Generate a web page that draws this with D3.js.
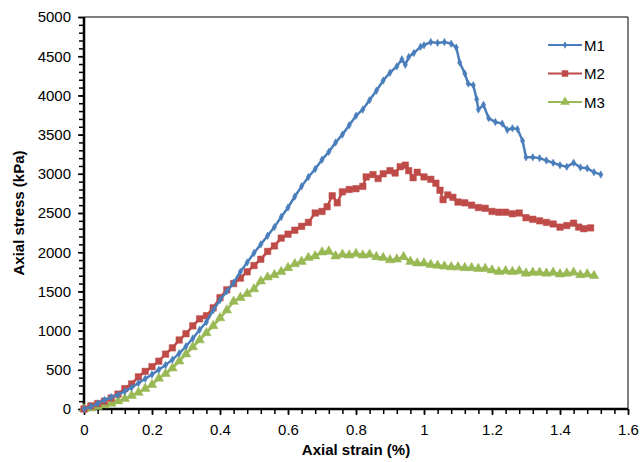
<!DOCTYPE html>
<html>
<head>
<meta charset="utf-8">
<script src="https://cdn.jsdelivr.net/npm/d3@7"></script>
<style>
  body { margin: 0; background: #fff; }
  svg { font-family: "Liberation Sans", Arial, sans-serif; }
</style>
</head>
<body>
<svg width="644" height="462"></svg>
<script>
const seriesNames = ["M1", "M2", "M3"];
const seriesColors = ["#4a7ebb", "#be4b48", "#98b954"];

// [axial strain %, axial stress kPa]
const m1 = [
  [0, 0], [0.02, 30], [0.04, 70], [0.06, 115], [0.08, 150], [0.10, 180], [0.12, 225],
  [0.14, 275], [0.16, 330], [0.18, 385], [0.20, 440], [0.22, 500], [0.24, 560],
  [0.26, 630], [0.28, 710], [0.30, 800], [0.32, 900], [0.34, 1010], [0.36, 1110],
  [0.38, 1260], [0.40, 1390], [0.42, 1500], [0.44, 1610], [0.46, 1750], [0.48, 1870],
  [0.50, 1990], [0.52, 2100], [0.54, 2210], [0.56, 2320], [0.58, 2450], [0.60, 2570],
  [0.62, 2710], [0.64, 2840], [0.66, 2960], [0.68, 3060], [0.70, 3180], [0.72, 3280],
  [0.74, 3400], [0.76, 3500], [0.78, 3620], [0.80, 3740], [0.82, 3820], [0.84, 3940],
  [0.86, 4060], [0.88, 4190], [0.90, 4290], [0.92, 4370], [0.935, 4460], [0.945, 4390],
  [0.955, 4490], [0.97, 4540], [0.99, 4620], [1.00, 4640], [1.02, 4680], [1.04, 4670],
  [1.06, 4680], [1.08, 4660], [1.095, 4610], [1.105, 4420], [1.12, 4280], [1.13, 4150],
  [1.145, 4130], [1.155, 3950], [1.16, 3820], [1.175, 3880], [1.19, 3710], [1.21, 3660],
  [1.23, 3640], [1.245, 3560], [1.26, 3580], [1.275, 3570], [1.29, 3420], [1.30, 3210],
  [1.32, 3210], [1.34, 3200], [1.36, 3170], [1.38, 3140], [1.40, 3110], [1.42, 3090],
  [1.44, 3140], [1.46, 3080], [1.48, 3070], [1.50, 3020], [1.52, 2990]
];
const m2 = [
  [0, 0], [0.02, 40], [0.04, 70], [0.06, 100], [0.08, 140], [0.10, 190], [0.12, 260],
  [0.14, 320], [0.16, 410], [0.18, 480], [0.20, 540], [0.22, 610], [0.24, 700],
  [0.26, 780], [0.28, 880], [0.30, 960], [0.32, 1060], [0.34, 1150], [0.36, 1190],
  [0.38, 1290], [0.40, 1420], [0.42, 1520], [0.44, 1600], [0.46, 1670], [0.48, 1750],
  [0.50, 1830], [0.52, 1910], [0.54, 2010], [0.56, 2080], [0.58, 2180], [0.60, 2230],
  [0.62, 2280], [0.64, 2330], [0.66, 2380], [0.68, 2500], [0.70, 2520], [0.715, 2580],
  [0.73, 2720], [0.745, 2630], [0.76, 2770], [0.78, 2800], [0.80, 2810], [0.82, 2840],
  [0.83, 2960], [0.85, 2990], [0.865, 2940], [0.88, 3000], [0.90, 3040], [0.915, 3010],
  [0.93, 3090], [0.945, 3110], [0.955, 3040], [0.968, 2950], [0.98, 3020], [1.00, 2960],
  [1.02, 2930], [1.035, 2880], [1.047, 2790], [1.056, 2670], [1.07, 2730], [1.085, 2700],
  [1.10, 2640], [1.12, 2630], [1.14, 2600], [1.16, 2570], [1.18, 2560], [1.20, 2520],
  [1.22, 2510], [1.24, 2510], [1.26, 2490], [1.28, 2500], [1.30, 2440], [1.32, 2420],
  [1.34, 2400], [1.36, 2380], [1.38, 2360], [1.40, 2320], [1.42, 2340], [1.44, 2370],
  [1.455, 2320], [1.47, 2300], [1.49, 2310]
];
const m3 = [
  [0, 0], [0.02, 10], [0.04, 30], [0.06, 50], [0.08, 70], [0.10, 100], [0.12, 130],
  [0.14, 170], [0.16, 210], [0.18, 260], [0.20, 310], [0.22, 390], [0.24, 450],
  [0.26, 520], [0.28, 610], [0.30, 700], [0.32, 790], [0.34, 880], [0.36, 970],
  [0.38, 1060], [0.40, 1160], [0.42, 1260], [0.44, 1370], [0.46, 1420], [0.48, 1470],
  [0.50, 1530], [0.52, 1630], [0.54, 1680], [0.56, 1710], [0.58, 1750], [0.60, 1800],
  [0.62, 1850], [0.64, 1880], [0.66, 1930], [0.68, 1950], [0.70, 2000], [0.72, 2010],
  [0.74, 1950], [0.76, 1970], [0.78, 1960], [0.80, 1980], [0.82, 1960], [0.84, 1970],
  [0.86, 1940], [0.88, 1930], [0.90, 1900], [0.92, 1910], [0.94, 1940], [0.96, 1880],
  [0.98, 1860], [1.00, 1860], [1.02, 1840], [1.04, 1830], [1.06, 1820], [1.08, 1810],
  [1.10, 1810], [1.12, 1800], [1.14, 1800], [1.16, 1790], [1.18, 1790], [1.20, 1770],
  [1.22, 1750], [1.24, 1760], [1.26, 1750], [1.28, 1760], [1.30, 1730], [1.32, 1740],
  [1.34, 1740], [1.36, 1730], [1.38, 1740], [1.40, 1720], [1.42, 1730], [1.44, 1740],
  [1.46, 1710], [1.48, 1720], [1.50, 1700]
];
const xTicks = [0, 0.2, 0.4, 0.6, 0.8, 1, 1.2, 1.4, 1.6];
const yTicks = [0, 500, 1000, 1500, 2000, 2500, 3000, 3500, 4000, 4500, 5000];

const svg = d3.select("svg");
const padL = 84, padR = 628, padT = 17, padB = 409;

const x = d3.scaleLinear().domain([0, 1.6]).range([padL, padR]);
const y = d3.scaleLinear().domain([0, 5000]).range([padB, padT]);

// frame (thin top / right)
svg.append("path")
  .attr("d", `M${padL},${padT}H${padR}V${padB}`)
  .attr("fill", "none").attr("stroke", "#000").attr("stroke-width", 1);

// minor ticks
svg.append("g")
  .attr("transform", `translate(0,${padB})`)
  .call(d3.axisBottom(x).tickValues(d3.range(0, 41).map(i => i * 0.04)).tickSize(5).tickFormat(""))
  .call(g => g.select(".domain").remove())
  .selectAll("line").attr("stroke-width", 1.5);
svg.append("g")
  .attr("transform", `translate(${padL},0)`)
  .call(d3.axisLeft(y).tickValues(d3.range(0, 51).map(i => i * 100)).tickSize(5).tickFormat(""))
  .call(g => g.select(".domain").remove())
  .selectAll("line").attr("stroke-width", 1.5);

// main axes
const xAxis = svg.append("g")
  .attr("transform", `translate(0,${padB})`)
  .call(d3.axisBottom(x).tickValues(xTicks).tickSize(6).tickPadding(9).tickFormat(d => String(+d.toFixed(1))));
const yAxis = svg.append("g")
  .attr("transform", `translate(${padL},0)`)
  .call(d3.axisLeft(y).tickValues(yTicks).tickSize(6).tickPadding(7).tickFormat(d3.format("d")));
[xAxis, yAxis].forEach(g => {
  g.select(".domain").attr("stroke-width", 2.5);
  g.selectAll("line").attr("stroke-width", 1.5);
  g.selectAll("text").attr("font-size", 15).attr("fill", "#000")
    .attr("font-family", "Liberation Sans, Arial, sans-serif");
});
yAxis.select(".domain").attr("d", `M0,${padB + 1}V${padT}`);
xAxis.select(".domain").attr("d", `M${padL - 1},0H${padR}`);

// axis titles
svg.append("text")
  .attr("x", (padL + padR) / 2).attr("y", 455)
  .attr("text-anchor", "middle").attr("font-size", 15).attr("font-weight", "bold")
  .text("Axial strain (%)");
svg.append("text")
  .attr("transform", `translate(24,${(padT + padB) / 2}) rotate(-90)`)
  .attr("text-anchor", "middle").attr("font-size", 15).attr("font-weight", "bold")
  .text("Axial stress (kPa)");

const series = [m1, m2, m3];
const symbols = [
  d3.symbol().type(d3.symbolDiamond).size(16),
  d3.symbol().type(d3.symbolSquare).size(42),
  d3.symbol().type(d3.symbolTriangle).size(40)
];
const line = d3.line().x(d => x(d[0])).y(d => y(d[1]));

const plot = svg.append("g");
[2, 1, 0].forEach(i => {
  const g = plot.append("g");
  g.append("path").datum(series[i])
    .attr("d", line).attr("fill", "none")
    .attr("stroke", seriesColors[i]).attr("stroke-width", 2.5);
  g.selectAll("path.m").data(series[i]).join("path")
    .attr("class", "m")
    .attr("transform", d => `translate(${x(d[0])},${y(d[1])})`)
    .attr("d", symbols[i]())
    .attr("fill", seriesColors[i]).attr("stroke", seriesColors[i]).attr("stroke-width", 0.5);
});

// legend
const legend = svg.append("g");
seriesNames.forEach((name, i) => {
  const ly = 45 + i * 28.5;
  legend.append("line").attr("x1", 548).attr("x2", 582).attr("y1", ly).attr("y2", ly)
    .attr("stroke", seriesColors[i]).attr("stroke-width", 2);
  legend.append("path").attr("transform", `translate(565,${ly})`)
    .attr("d", symbols[i]()).attr("fill", seriesColors[i]);
  legend.append("text").attr("x", 584).attr("y", ly + 5.5)
    .attr("font-size", 15).text(name);
});
</script>
</body>
</html>
